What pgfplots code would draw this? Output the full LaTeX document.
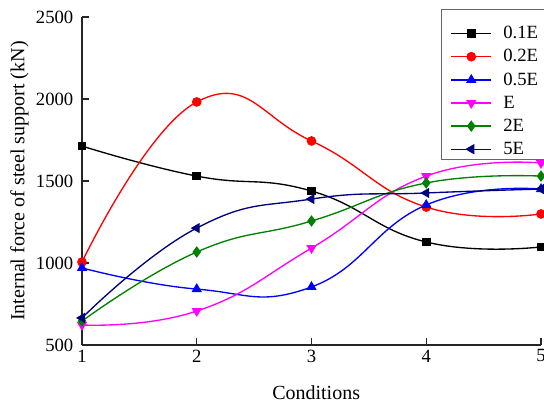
\documentclass[border=0pt]{standalone}
\usepackage{pgfplots}
\pgfplotsset{compat=1.18}
\usepackage{fontspec}
\setmainfont{Liberation Serif}
\definecolor{dgreen}{RGB}{0,128,0}
\definecolor{navyb}{RGB}{0,0,128}
\definecolor{magf}{RGB}{255,0,255}
\begin{document}
\begin{tikzpicture}
\begin{axis}[
  at={(0,0)}, anchor=south west,
  scale only axis,
  width=344.25pt, height=246pt,
  xmin=1, xmax=5, ymin=500, ymax=2500,
  xtick={1,2,3,4,5}, ytick={500,1000,1500,2000,2500},
  axis lines*=left,
  tick align=inside,
  major tick length=5pt,
  axis line style={line width=0.9pt, black!85},
  tick style={line width=0.9pt, black!85},
  /pgf/number format/assume math mode=true,
  /pgf/number format/set thousands separator={},
  xticklabel style={font=\fontsize{14}{16}\selectfont},
  yticklabel style={font=\fontsize{14}{16}\selectfont, xshift=-3pt},
  xlabel={Conditions},
  ylabel={Internal force of steel support (kN)},
  xlabel style={at={(axis description cs:0.5,0)}, anchor=center, yshift=-36pt, xshift=3.5pt, font=\fontsize{15}{17}\selectfont},
  ylabel style={at={(axis description cs:-0.1365,0.5)}, anchor=center, font=\fontsize{15}{17}\selectfont},
  clip=false,
  every axis plot/.append style={line width=1pt, smooth, tension=0.8},
  legend style={at={(rel axis cs:0.782,1.024)}, anchor=north west,
    draw=black!60, line width=0.5pt, font=\fontsize{14}{16}\selectfont,
    inner xsep=7pt, inner ysep=0.3pt, row sep=2.6pt,
    /tikz/every odd column/.append style={column sep=6.5pt}},
  legend cell align=left,
  legend image code/.code={\draw[mark repeat=2,mark phase=2] plot[sharp plot] coordinates {(0pt,0pt) (15pt,0pt) (30pt,0pt)};},
]
\addlegendimage{empty legend}
\addlegendentry[font=\fontsize{2}{2}\selectfont]{\rule{0pt}{2.2pt}}
\addplot[black, mark=square*, mark size=2.7pt] coordinates {(1,1713) (2,1530) (3,1439) (4,1128) (5,1098)};
\addlegendentry{0.1E}
\addplot[red, mark=*, mark size=3.1pt] coordinates {(1,1006) (2,1982) (3,1744) (4,1341) (5,1299)};
\addlegendentry{0.2E}
\addplot[blue, mark=triangle*, mark size=3.5pt] coordinates {(1,970) (2,841) (3,854) (4,1354) (5,1451)};
\addlegendentry{0.5E}
\addplot[magf, mark=triangle*, mark size=3.5pt, mark options={rotate=180}] coordinates {(1,622) (2,707) (3,1091) (4,1530) (5,1610)};
\addlegendentry{E}
\addplot[dgreen, mark=diamond*, mark size=3.5pt] coordinates {(1,646) (2,1067) (3,1256) (4,1488) (5,1530)};
\addlegendentry{2E}
\addplot[navyb, mark=triangle*, mark size=3.5pt, mark options={rotate=90}] coordinates {(1,665) (2,1213) (3,1390) (4,1427) (5,1451)};
\addlegendentry{5E}
\end{axis}
\pgfresetboundingbox
\path[use as bounding box] (-61.5pt,-45pt) rectangle (346.5pt,258.75pt);
\end{tikzpicture}
\end{document}
